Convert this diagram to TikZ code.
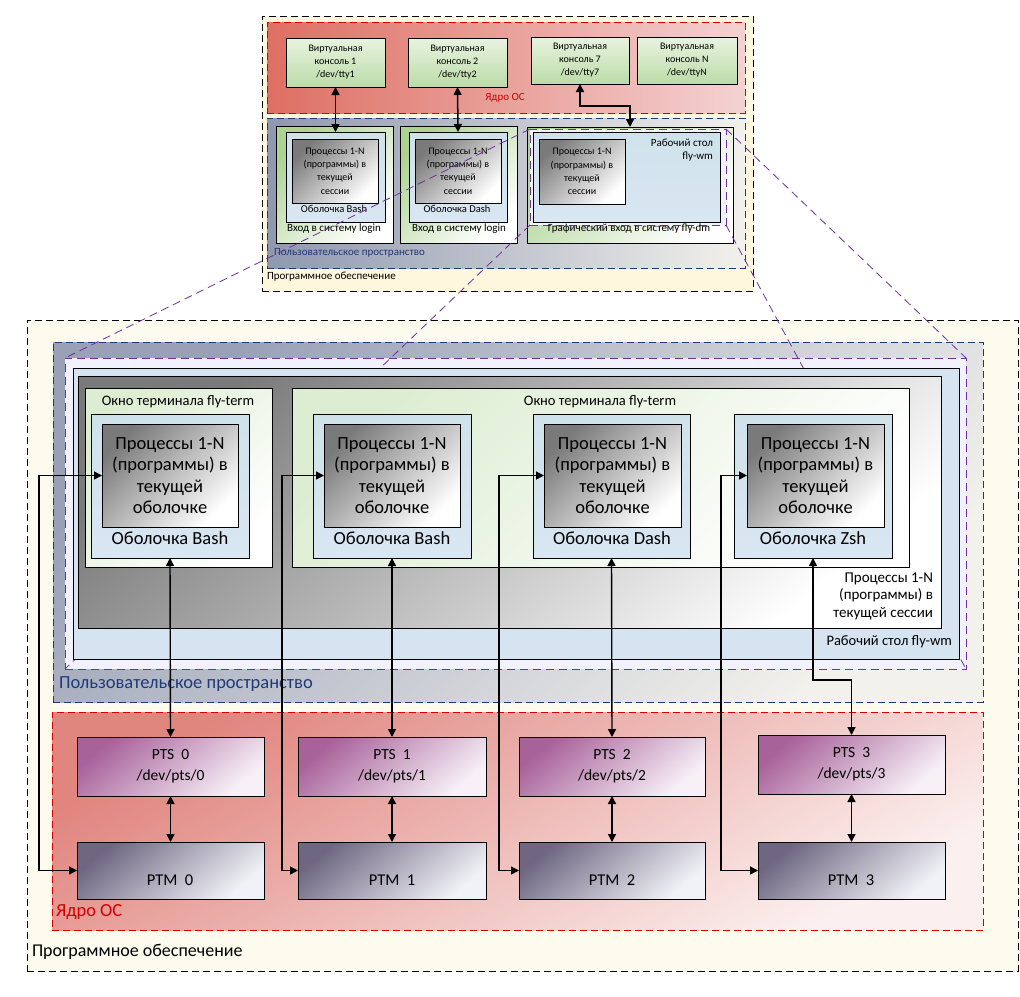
\documentclass[tikz,border=0pt]{standalone}
\usepackage{fontspec}
\setmainfont{Carlito}
\usetikzlibrary{arrows.meta}
\definecolor{cream}{HTML}{FDFAEE}
\definecolor{tcream}{HTML}{FFF6DE}
\definecolor{dblue}{HTML}{1F3A78}
\definecolor{kred}{HTML}{D40000}
\definecolor{purp}{HTML}{7030A0}
\definecolor{usrA}{HTML}{9AA1B7}
\definecolor{usrB}{HTML}{F2F1EC}
\definecolor{tusrA}{HTML}{9098B0}
\definecolor{kernA}{HTML}{E1857F}
\definecolor{kernM}{HTML}{EAA8A5}
\definecolor{kernB}{HTML}{FBF0EF}
\definecolor{tkernA}{HTML}{DE6F63}
\definecolor{tkernB}{HTML}{F4D2D2}
\definecolor{deskC}{HTML}{D6E4F1}
\definecolor{shellA}{HTML}{CFE2EA}
\definecolor{shellB}{HTML}{D9E6F3}
\definecolor{termA}{HTML}{DDEDD2}
\definecolor{ptsA}{HTML}{A8629A}
\definecolor{ptsM}{HTML}{C597C1}
\definecolor{ptsB}{HTML}{F7F0F7}
\definecolor{ptmA}{HTML}{6F6782}
\definecolor{ptmM}{HTML}{9D9CB3}
\definecolor{ptmB}{HTML}{F1F2F7}
\definecolor{consA}{HTML}{E8F3E0}
\definecolor{consB}{HTML}{BCDCA8}
\definecolor{loginA}{HTML}{ADD393}
\newcommand\fs[2]{\fontsize{#1}{#2}\selectfont}
\newcommand\Bx[7]{\node[bx,#1,minimum width={(#5)-(#3)},minimum height={(#6)-(#4)}] (#2) at (#3,#4) {#7};}
\begin{document}
\begin{tikzpicture}[x=1pt,y=-1pt,
  bx/.style={draw=black,line width=0.9pt,anchor=north west,inner sep=0pt,outer sep=0pt,align=center},
  dsh/.style={dash pattern=on 7pt off 4pt},
  soft/.style={fill=cream,draw=black,dsh},
  tsoft/.style={fill=tcream,draw=black,dsh},
  usr/.style={draw=dblue,dsh,top color=usrA,bottom color=usrB,shading angle=45},
  tusr/.style={draw=dblue,dsh,left color=tusrA,right color=usrB},
  purpbox/.style={draw=purp,dash pattern=on 8pt off 5pt,fill=white!95!blue},
  kern/.style={draw=kred,dsh,top color=kernA,middle color=kernM,bottom color=kernB,shading angle=30},
  tkern/.style={draw=kred,dsh,left color=tkernA,right color=tkernB},
  desk/.style={fill=deskC},
  sess/.style={top color=black!52,bottom color=white,shading angle=40},
  term/.style={top color=termA,bottom color=white,shading angle=45},
  shell/.style={top color=shellA,bottom color=shellB},
  proc/.style={top color=black!52,bottom color=white,shading angle=45,font=\fs{18.5}{21.5}},
  pts/.style={top color=ptsA,middle color=ptsM,bottom color=ptsB,shading angle=40,font=\fs{15.5}{21}},
  ptm/.style={top color=ptmA,middle color=ptmM,bottom color=ptmB,shading angle=40},
  cons/.style={top color=consA,bottom color=consB,font=\fs{10}{13}},
  login/.style={top color=loginA,bottom color=white,shading angle=45},
  tshell/.style={top color=shellA,bottom color=shellB},
  tproc/.style={top color=black!52,bottom color=white,shading angle=45,font=\fs{10}{13.3}},
  lbl/.style={inner sep=0pt,outer sep=0pt},
  pline/.style={draw=purp,line width=0.8pt,dash pattern=on 8pt off 5pt},
  arr/.style={line width=1.4pt,arrows={Triangle[length=8pt,width=8pt]-Triangle[length=8pt,width=8pt]}}
]
\useasboundingbox (0,0) rectangle (1020,996);
\fill[white] (0,0) rectangle (1020,996);

% ---------- bottom background ----------
\Bx{soft}{bsoft}{27}{320}{1018}{971}{}
\Bx{usr}{busr}{53}{342}{983}{702}{}
\Bx{purpbox}{bpurp}{65}{358}{966}{669}{}

% ---------- top section ----------
\Bx{tsoft}{tsoft}{262}{16}{753}{291}{}
\Bx{tkern}{tkern}{267}{22}{745}{113}{}
\Bx{tusr}{tusr}{267}{118}{745}{268}{}
\Bx{cons}{c1}{286}{38}{385}{87}{Виртуальная\\консоль 1\\/dev/tty1}
\Bx{cons}{c2}{408}{38}{507}{87}{Виртуальная\\консоль 2\\/dev/tty2}
\Bx{cons}{c7}{531}{37}{629}{84}{Виртуальная\\консоль 7\\/dev/tty7}
\Bx{cons}{cN}{637}{37}{737}{84}{Виртуальная\\консоль N\\/dev/ttyN}
\node[lbl,text=kred,font=\fs{11}{12}] (tkernl) at (505,98) {Ядро ОС};

\Bx{login}{l1}{276}{126}{393}{243}{}
\Bx{tshell}{l1s}{286}{132}{385}{222}{}
\Bx{tproc}{l1p}{292}{139}{378}{203}{Процессы 1-N\\(программы) в\\текущей\\сессии}
\Bx{login}{l2}{400}{126}{517}{243}{}
\Bx{tshell}{l2s}{409}{132}{507}{222}{}
\Bx{tproc}{l2p}{415}{139}{501}{203}{Процессы 1-N\\(программы) в\\текущей\\сессии}
\Bx{login}{gfx}{527}{127}{733}{243}{}
\Bx{purpbox}{tpurp}{530}{129}{726}{225}{}
\Bx{tshell}{tdesk}{533}{132}{720}{222}{}
\Bx{tproc}{tdp}{539}{139}{625}{204}{Процессы 1-N\\(программы) в\\текущей\\сессии}

\node[lbl,font=\fs{10.5}{12}] (l1sl) at (334,209) {Оболочка Bash};
\node[lbl,font=\fs{11}{12}] (l1l) at (334,229) {Вход в систему login};
\node[lbl,font=\fs{10.5}{12}] (l2sl) at (457,209) {Оболочка Dash};
\node[lbl,font=\fs{11}{12}] (l2l) at (459,229) {Вход в систему login};
\node[lbl,font=\fs{11}{12}] (gfxl) at (629,229) {Графический вход в систему fly-dm};
\node[lbl,font=\fs{11}{13},align=right,anchor=north east] (tdeskl) at (713,139) {Рабочий стол\\fly-wm};
\node[lbl,font=\fs{11}{12},text=dblue,anchor=west] (tusrl) at (274,253) {Пользовательское пространство};
\node[lbl,font=\fs{11}{12},anchor=west] (tsoftl) at (267,277) {Программное обеспечение};

\draw[arr,line width=1.5pt] (c1.south) -- (l1s.north);
\draw[arr,line width=1.5pt] (c2.south) -- (l2s.north);
\draw[arr,line width=1.5pt] (c7.south) -- ++(0,22) -| (gfx.north);

% ---------- projection lines ----------
\draw[pline] (tpurp.north west) -- (bpurp.north west);
\draw[pline] (tpurp.south west) -- (bpurp.south west);
\draw[pline] (tpurp.north east) -- (bpurp.north east);
\draw[pline] (tpurp.south east) -- (bpurp.south east);

% ---------- bottom user space ----------
\Bx{desk}{bdesk}{73}{368}{959}{659}{}
\Bx{sess}{bsess}{78}{376}{941}{628}{}
\Bx{term}{term1}{85}{388}{272}{567}{}
\Bx{term}{term2}{292}{388}{909}{567}{}
\Bx{shell}{sh1}{91}{414}{249}{558}{}
\Bx{shell}{sh2}{313}{414}{471}{558}{}
\Bx{shell}{sh3}{533}{414}{690}{558}{}
\Bx{shell}{sh4}{734}{414}{892}{558}{}
\Bx{proc}{pr1}{102}{424}{238}{527}{Процессы 1-N\\(программы) в\\текущей\\оболочке}
\Bx{proc}{pr2}{324}{424}{460}{527}{Процессы 1-N\\(программы) в\\текущей\\оболочке}
\Bx{proc}{pr3}{544}{424}{681}{527}{Процессы 1-N\\(программы) в\\текущей\\оболочке}
\Bx{proc}{pr4}{747}{424}{884}{527}{Процессы 1-N\\(программы) в\\текущей\\оболочке}

\node[lbl,font=\fs{14.5}{16}] (t1l) at (178,402) {Окно терминала fly-term};
\node[lbl,font=\fs{14.5}{16}] (t2l) at (600,402) {Окно терминала fly-term};
\node[lbl,font=\fs{18.5}{20}] (sh1l) at (170,538) {Оболочка Bash};
\node[lbl,font=\fs{18.5}{20}] (sh2l) at (392,538) {Оболочка Bash};
\node[lbl,font=\fs{18.5}{20}] (sh3l) at (612,538) {Оболочка Dash};
\node[lbl,font=\fs{18.5}{20}] (sh4l) at (813,538) {Оболочка Zsh};
\node[lbl,font=\fs{15}{17.5},align=right,anchor=east] (sessl) at (933,596) {Процессы 1-N\\(программы) в\\текущей сессии};
\node[lbl,font=\fs{14.5}{15},anchor=east] (deskl) at (952,642) {Рабочий стол fly-wm};
\node[lbl,font=\fs{18.5}{20},text=dblue,anchor=west] (usrl) at (59,684) {Пользовательское пространство};

% ---------- bottom kernel ----------
\Bx{kern}{bkern}{52}{712}{983}{930}{}
\Bx{pts}{pts0}{77}{737}{264}{796}{PTS\ \ 0\\/dev/pts/0}
\Bx{pts}{pts1}{298}{737}{486}{796}{PTS\ \ 1\\/dev/pts/1}
\Bx{pts}{pts2}{519}{737}{705}{796}{PTS\ \ 2\\/dev/pts/2}
\Bx{pts}{pts3}{758}{735}{945}{794}{PTS\ \ 3\\/dev/pts/3}
\Bx{ptm}{ptm0}{77}{842}{264}{899}{}
\Bx{ptm}{ptm1}{298}{842}{486}{899}{}
\Bx{ptm}{ptm2}{519}{842}{705}{899}{}
\Bx{ptm}{ptm3}{758}{842}{945}{899}{}
\node[lbl,font=\fs{16.5}{18}] (ptm0l) at (170,880) {PTM\ \ 0};
\node[lbl,font=\fs{16.5}{18}] (ptm1l) at (392,880) {PTM\ \ 1};
\node[lbl,font=\fs{16.5}{18}] (ptm2l) at (612,880) {PTM\ \ 2};
\node[lbl,font=\fs{16.5}{18}] (ptm3l) at (851,880) {PTM\ \ 3};
\node[lbl,font=\fs{18.5}{20},text=kred,anchor=west] (kernl) at (56,912) {Ядро ОС};
\node[lbl,font=\fs{18}{20},anchor=west] (softl) at (32,952) {Программное обеспечение};

% ---------- connectors ----------
\draw[arr] (sh1.south) -- (pts0.north);
\draw[arr] (sh2.south) -- (pts1.north);
\draw[arr] (sh3.south) -- (pts2.north);
\draw[arr] (sh4.south) -- ++(0,122) -| (pts3.north);
\draw[arr] (pts0.south) -- (ptm0.north);
\draw[arr] (pts1.south) -- (ptm1.north);
\draw[arr] (pts2.south) -- (ptm2.north);
\draw[arr] (pts3.south) -- (ptm3.north);
\draw[arr] (ptm0.west) -- ++(-38,0) |- (pr1.west);
\draw[arr] (ptm1.west) -- ++(-16,0) |- (pr2.west);
\draw[arr] (ptm2.west) -- ++(-20,0) |- (pr3.west);
\draw[arr] (ptm3.west) -- ++(-37,0) |- (pr4.west);
\end{tikzpicture}
\end{document}
